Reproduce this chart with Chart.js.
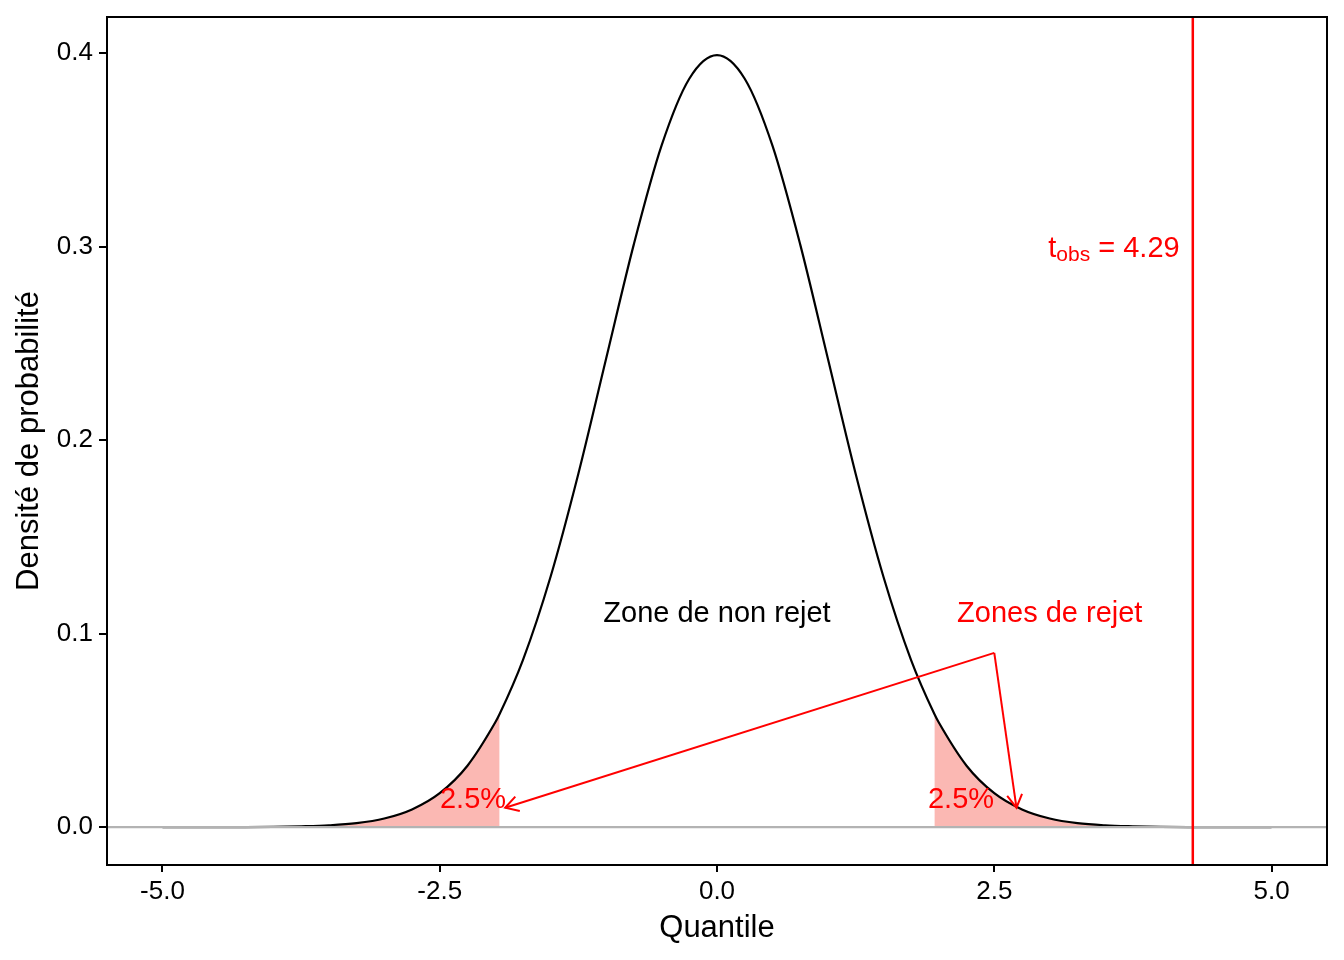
<!DOCTYPE html>
<html>
<head>
<meta charset="utf-8">
<script src="https://cdn.jsdelivr.net/npm/chart.js@4.4.0/dist/chart.umd.min.js"></script>
<style>
  body { margin: 0; background: #fff; }
  canvas { display: block; }
</style>
</head>
<body>
<canvas id="myChart" width="1344" height="960" style="width:1344px;height:960px"></canvas>
<script>
// Density curve
var quantiles = [-5, -4.75, -4.5, -4.25, -4, -3.75, -3.5, -3.25, -3, -2.75, -2.5, -2.25, -2, -1.96,
  -1.75, -1.5, -1.25, -1, -0.75, -0.5, -0.25, 0, 0.25, 0.5, 0.75, 1, 1.25, 1.5, 1.75,
  1.96, 2, 2.25, 2.5, 2.75, 3, 3.25, 3.5, 3.75, 4, 4.25, 4.5, 4.75, 5];
var densities = [0, 0, 0, 0, 0.0001, 0.0004, 0.0009, 0.0020, 0.0044, 0.0091, 0.0175, 0.0317, 0.0540, 0.0584,
  0.0863, 0.1295, 0.1826, 0.2420, 0.3011, 0.3521, 0.3867, 0.3989, 0.3867, 0.3521, 0.3011, 0.2420, 0.1826, 0.1295, 0.0863,
  0.0584, 0.0540, 0.0317, 0.0175, 0.0091, 0.0044, 0.0020, 0.0009, 0.0004, 0.0001, 0, 0, 0, 0];

var criticalValue = 1.96;
var tObs = 4.29;
var xTicks = [-5, -2.5, 0, 2.5, 5];
var yTicks = [0, 0.1, 0.2, 0.3, 0.4];

var FONT = "'Liberation Sans', Arial, sans-serif";
var RED = '#ff0000';

function points(filterFn) {
  var out = [];
  for (var i = 0; i < quantiles.length; i++) {
    if (filterFn(quantiles[i])) out.push({ x: quantiles[i], y: densities[i] });
  }
  return out;
}

var curve = points(function (q) { return true; });
var leftTail = points(function (q) { return q <= -criticalValue; });
var rightTail = points(function (q) { return q >= criticalValue; });

// Annotation texts and arrows
var labels = [
  { text: 'Zone de non rejet', x: 0, y: 0.11, color: '#000000' },
  { text: 'Zones de rejet', x: 3, y: 0.11, color: RED },
  { text: '2.5%', x: -2.2, y: 0.014, color: RED },
  { text: '2.5%', x: 2.2, y: 0.014, color: RED }
];
var arrowStart = { x: 2.5, y: 0.09 };
var arrowEnds = [{ x: -1.91, y: 0.01 }, { x: 2.7, y: 0.01 }];

function drawArrow(ctx, x0, y0, x1, y1) {
  ctx.beginPath();
  ctx.moveTo(x0, y0);
  ctx.lineTo(x1, y1);
  ctx.stroke();
  var ang = Math.atan2(y1 - y0, x1 - x0);
  var len = 15, spread = Math.PI / 6;
  ctx.beginPath();
  ctx.moveTo(x1 - len * Math.cos(ang - spread), y1 - len * Math.sin(ang - spread));
  ctx.lineTo(x1, y1);
  ctx.lineTo(x1 - len * Math.cos(ang + spread), y1 - len * Math.sin(ang + spread));
  ctx.stroke();
}

var annotate = {
  id: 'annotate',
  afterDatasetsDraw: function (chart) {
    var ctx = chart.ctx, a = chart.chartArea;
    var xs = chart.scales.x, ys = chart.scales.y;
    ctx.save();
    ctx.beginPath();
    ctx.rect(a.left, a.top, a.right - a.left, a.bottom - a.top);
    ctx.clip();

    // zero line
    ctx.strokeStyle = '#b3b3b3';
    ctx.lineWidth = 2.2;
    ctx.beginPath();
    ctx.moveTo(a.left, ys.getPixelForValue(0));
    ctx.lineTo(a.right, ys.getPixelForValue(0));
    ctx.stroke();

    // observed t
    var vx = xs.getPixelForValue(tObs);
    ctx.strokeStyle = RED;
    ctx.lineWidth = 2.5;
    ctx.beginPath();
    ctx.moveTo(vx, a.top);
    ctx.lineTo(vx, a.bottom);
    ctx.stroke();

    // arrows
    ctx.lineWidth = 2;
    ctx.lineJoin = 'miter';
    var sx = xs.getPixelForValue(arrowStart.x), sy = ys.getPixelForValue(arrowStart.y);
    arrowEnds.forEach(function (e) {
      drawArrow(ctx, sx, sy, xs.getPixelForValue(e.x), ys.getPixelForValue(e.y));
    });

    // texts
    ctx.textAlign = 'center';
    ctx.textBaseline = 'middle';
    ctx.font = '29px ' + FONT;
    labels.forEach(function (l) {
      ctx.fillStyle = l.color;
      ctx.fillText(l.text, xs.getPixelForValue(l.x), ys.getPixelForValue(l.y));
    });

    // t_obs label with subscript, hjust 1.1
    var big = '29px ' + FONT, small = '21px ' + FONT;
    ctx.font = big; var w1 = ctx.measureText('t').width; var w3 = ctx.measureText(' = ' + tObs.toFixed(2)).width;
    ctx.font = small; var w2 = ctx.measureText('obs').width;
    var total = w1 + w2 + w3;
    var right = vx - 0.1 * total;
    var base = ys.getPixelForValue(0.3) + 10;
    var px = right - total;
    ctx.textAlign = 'left';
    ctx.textBaseline = 'alphabetic';
    ctx.fillStyle = RED;
    ctx.font = big; ctx.fillText('t', px, base);
    ctx.font = small; ctx.fillText('obs', px + w1, base + 4);
    ctx.font = big; ctx.fillText(' = ' + tObs.toFixed(2), px + w1 + w2, base);

    ctx.restore();

    // panel border
    ctx.save();
    ctx.strokeStyle = '#000000';
    ctx.lineWidth = 2;
    ctx.strokeRect(a.left, a.top, a.right - a.left, a.bottom - a.top);
    ctx.restore();
  }
};

var ctx = document.getElementById('myChart').getContext('2d');

var data = {
  datasets: [
    { data: curve, borderColor: '#000000', borderWidth: 2.2, fill: false, pointRadius: 0, cubicInterpolationMode: 'monotone' },
    { data: leftTail, borderWidth: 0, borderColor: 'rgba(0,0,0,0)', backgroundColor: 'rgba(248,118,109,0.52)', fill: 'origin', pointRadius: 0, cubicInterpolationMode: 'monotone' },
    { data: rightTail, borderWidth: 0, borderColor: 'rgba(0,0,0,0)', backgroundColor: 'rgba(248,118,109,0.52)', fill: 'origin', pointRadius: 0, cubicInterpolationMode: 'monotone' }
  ]
};

var options = {
  responsive: false,
  devicePixelRatio: 1,
  animation: false,
  layout: { padding: { top: 17, right: 17, left: 0, bottom: 0 } },
  plugins: { legend: { display: false }, tooltip: { enabled: false } },
  scales: {
    x: {
      type: 'linear',
      min: -5.5,
      max: 5.5,
      afterBuildTicks: function (s) { s.ticks = xTicks.map(function (v) { return { value: v }; }); },
      afterFit: function (s) { s.height = 95; s.paddingLeft = 0; s.paddingRight = 0; },
      ticks: {
        color: '#000000', padding: 4,
        font: { family: FONT, size: 26 },
        callback: function (v) { return v.toFixed(1); }
      },
      grid: { display: true, drawOnChartArea: false, drawTicks: true, tickLength: 7, color: '#000000', lineWidth: 2 },
      border: { display: true, color: '#000000', width: 2 },
      title: { display: true, text: 'Quantile', color: '#000000', font: { family: FONT, size: 31 }, padding: { top: 0, bottom: 13 } }
    },
    y: {
      type: 'linear',
      min: -0.0196,
      max: 0.4186,
      afterBuildTicks: function (s) { s.ticks = yTicks.map(function (v) { return { value: v }; }); },
      afterFit: function (s) { s.width = 107; s.paddingTop = 0; s.paddingBottom = 0; },
      ticks: {
        color: '#000000', padding: 6,
        font: { family: FONT, size: 26 },
        callback: function (v) { return v.toFixed(1); }
      },
      grid: { display: true, drawOnChartArea: false, drawTicks: true, tickLength: 8, color: '#000000', lineWidth: 2 },
      border: { display: true, color: '#000000', width: 2 },
      title: { display: true, text: 'Densité de probabilité', color: '#000000', font: { family: FONT, size: 31 }, padding: { top: 11, bottom: 0 } }
    }
  }
};

var myChart = new Chart(ctx, {
  type: 'line',
  data: data,
  options: options,
  plugins: [annotate]
});
</script>
</body>
</html>
